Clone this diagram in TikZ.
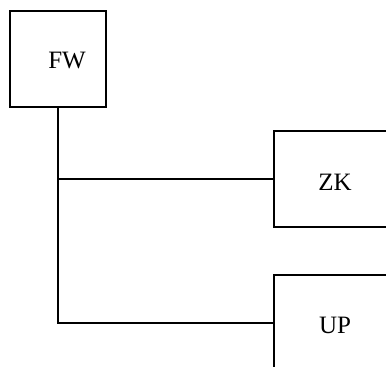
\documentclass[tikz,border=0pt]{standalone}
\usepackage{fontspec}
\setmainfont{Liberation Serif}
\usepackage{tikz}
\usetikzlibrary{positioning}

\begin{document}
\begin{tikzpicture}[x=0.5pt,y=-0.5pt,
		box/.style={draw,rectangle,line width=1pt,minimum width=48pt,minimum height=48pt,inner sep=0pt},
		wide/.style={minimum width=60pt},
		boxtext/.style={font=\fontsize{12.5}{15}\selectfont},
		link/.style={draw,line width=1pt}]
		\useasboundingbox (0,0) rectangle (386,367);
		\clip (0,0) rectangle (386,367);
		% blocks
		\node[box] (fw) at (58,59) {};
		\node[boxtext] (fwtext) at (67,61) {FW};
		\node[box,wide] (zk) at (334,179) {};
		\node[boxtext] (zktext) at (335,182) {ZK};
		\node[box,wide] (up) at (334,323) {};
		\node[boxtext] (uptext) at (335,325) {UP};
		% links
		\path[link] (fw.south) |- (up.west);
		\path[link] (fw.south |- zk.west) -- (zk.west);
	\end{tikzpicture}
\end{document}
